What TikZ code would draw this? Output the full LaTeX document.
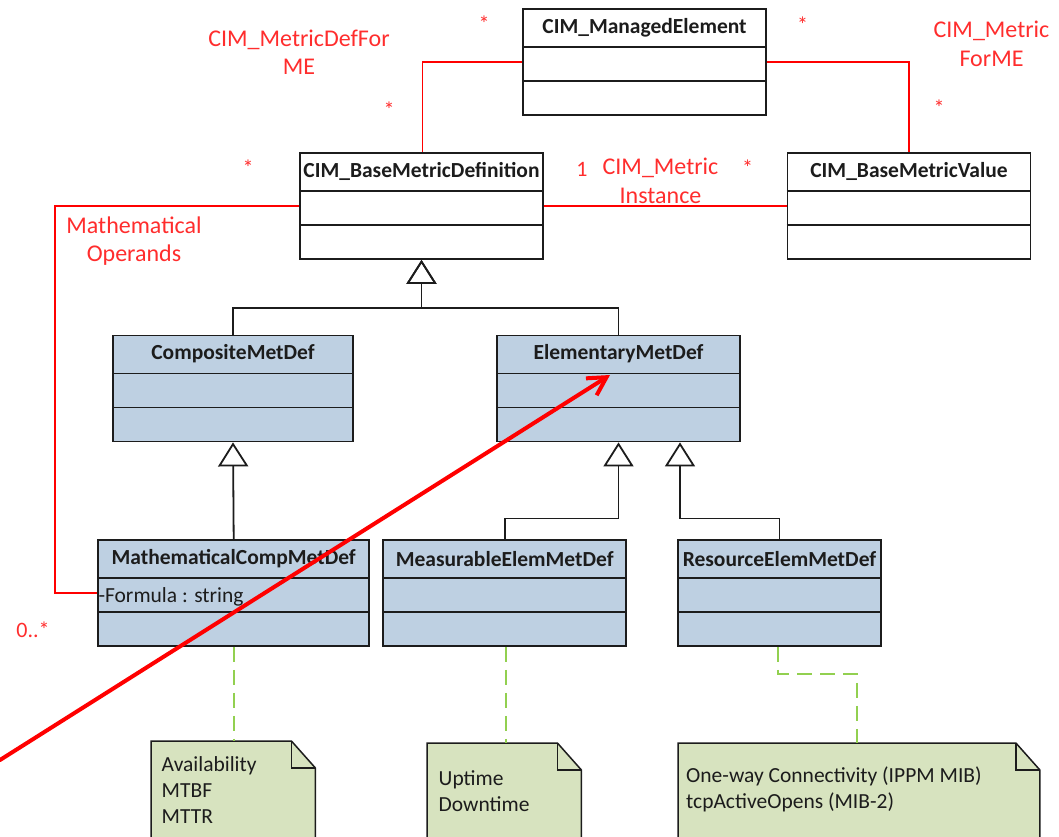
\documentclass[tikz,border=0pt]{standalone}
\usepackage{fontspec}
\setmainfont{Carlito}
\usetikzlibrary{arrows.meta,calc}

\definecolor{ink}{RGB}{28,28,28}
\definecolor{classblue}{RGB}{190,208,226}
\definecolor{notefill}{RGB}{215,227,191}
\definecolor{notegreen}{RGB}{146,208,80}
\definecolor{assocred}{RGB}{255,0,0}
\definecolor{labelred}{RGB}{255,45,45}

% UML class box: name, centre x, centre y, width, fill, title
\newcommand\umlclass[6]{%
  \node[classbox, fill=#5, minimum width=#4] (#1) at (#2,#3) {};
  \draw[divider] ([yshift=-39pt]#1.north west) -- ([yshift=-39pt]#1.north east);
  \draw[divider] ([yshift=-73pt]#1.north west) -- ([yshift=-73pt]#1.north east);
  \node[classtitle] (#1-title) at ([yshift=-19.5pt]#1.north) {#6};
}
% UML note with a folded corner, drawn around an invisible named node
\newcommand\umlnote[1]{%
  \filldraw[fill=notefill, draw=ink, line width=1.5pt]
    (#1.south west) -- (#1.north west) -- ([xshift=-24pt]#1.north east)
    -- ([yshift=-27pt]#1.north east) -- (#1.south east) -- cycle;
  \draw[ink, line width=1.5pt] ([xshift=-24pt]#1.north east) |- ([yshift=-27pt]#1.north east);
}

\begin{document}
\begin{tikzpicture}[x=1pt, y=-1pt,
  classbox/.style={draw=ink, line width=1.8pt, inner sep=0pt, minimum height=106pt},
  divider/.style={draw=ink, line width=1.5pt},
  classtitle/.style={font=\fontsize{21.5}{25}\selectfont\bfseries, text=ink, inner sep=0pt},
  attr/.style={font=\fontsize{21.5}{25}\selectfont, text=ink, inner sep=0pt, anchor=west},
  gen/.style={draw=ink, line width=1.8pt, -{Triangle[open, length=24pt, width=30pt]}},
  assocline/.style={draw=assocred, line width=1.8pt},
  assoclabel/.style={text=labelred, font=\fontsize{24}{28.5}\selectfont, align=center, inner sep=0pt},
  mult/.style={text=labelred, font=\fontsize{22}{25}\selectfont, inner sep=0pt},
  notebox/.style={inner sep=0pt, anchor=north west},
  notelink/.style={draw=notegreen, line width=1.8pt, dash pattern=on 15pt off 8pt},
  notetext/.style={font=\fontsize{21.5}{26}\selectfont, text=ink, align=left, inner sep=0pt, anchor=north west},
  bigarrow/.style={draw=assocred, line width=4pt, line cap=round, -{Straight Barb[length=18pt, width=20pt]}}
]
\useasboundingbox (0,0) rectangle (1059,837);
\fill[white] (0,0) rectangle (1059,837);

% classes
\umlclass{me}{644.5}{62}{243pt}{white}{CIM\_ManagedElement}
\umlclass{bmd}{421.5}{206}{243pt}{white}{CIM\_BaseMetricDefinition}
\umlclass{bmv}{909}{206}{243pt}{white}{CIM\_BaseMetricValue}
\umlclass{cmd}{233}{388.5}{240pt}{classblue}{CompositeMetDef}
\umlclass{emd}{618.5}{388.5}{243pt}{classblue}{ElementaryMetDef}
\umlclass{mcmd}{233.7}{593}{271pt}{classblue}{MathematicalCompMetDef}
\umlclass{memd}{504.7}{593}{243pt}{classblue}{MeasurableElemMetDef}
\umlclass{remd}{779.5}{593}{203pt}{classblue}{ResourceElemMetDef}
\node[attr] (formula) at ([xshift=1pt,yshift=-3.5pt]mcmd.west) {-Formula : string};

% generalizations
\coordinate (bmdjoin) at ([yshift=-48pt]bmd.south);
\draw[gen] (cmd.north) |- (bmdjoin) -- (bmd.south);
\draw[gen] (emd.north) |- (bmdjoin) -- (bmd.south);
\draw[gen] (mcmd.north) -- (cmd.south);
\draw[gen] (memd.north) |- ([yshift=-76pt]emd.south) -- (emd.south);
\draw[gen] (remd.north) |- ([xshift=61.5pt,yshift=-76pt]emd.south) -- ([xshift=61.5pt]emd.south);

% associations
\draw[assocline] (me.west) -| ([xshift=1pt]bmd.north);
\draw[assocline] (me.east) -| (bmv.north);
\draw[assocline] (bmd.east) -- (bmv.west);
\coordinate (opcorner) at (55,593);
\draw[assocline] (bmd.west) -| (opcorner) -- (mcmd.west);

% association names and multiplicities
\node[assoclabel] (defforme) at (299,52) {CIM\_MetricDefFor\\ME};
\node[assoclabel] (forme) at (991.5,44) {CIM\_Metric\\ForME};
\node[assoclabel] (instance) at (660.5,181) {CIM\_Metric\\Instance};
\node[assoclabel] (operands) at (134,241) {Mathematical\\Operands};
\node[mult] (m1) at (484,24) {*};
\node[mult] (m2) at (389,110) {*};
\node[mult] (m3) at (248,168) {*};
\node[mult] (m4) at (802.5,25) {*};
\node[mult] (m5) at (939,108) {*};
\node[mult] (m6) at (747.5,168) {*};
\node[mult] (m7) at (582,169) {1};
\node[mult] (m8) at (33,630) {0..*};

% notes
\node[notebox, minimum width=164pt, minimum height=119pt] (n1) at (151,741) {};
\node[notebox, minimum width=154pt, minimum height=117pt] (n2) at (427,743) {};
\node[notebox, minimum width=361.5pt, minimum height=117pt] (n3) at (678,743) {};
\umlnote{n1}
\umlnote{n2}
\umlnote{n3}
\node[notetext] (n1-text) at ([xshift=10.5pt,yshift=-15pt]n1.north west) {Availability\\MTBF\\MTTR};
\node[notetext] (n2-text) at ([xshift=11.5pt,yshift=-27pt]n2.north west) {Uptime\\Downtime};
\node[notetext] (n3-text) at ([xshift=8pt,yshift=-24pt]n3.north west) {One-way Connectivity (IPPM MIB)\\tcpActiveOpens (MIB-2)};

% note anchors
\draw[notelink] (mcmd.south) -- (mcmd.south |- n1.north);
\draw[notelink] ([xshift=1.3pt]memd.south) -- ([xshift=1.3pt]memd.south |- n2.north);
\draw[notelink] ([xshift=-1.5pt]remd.south) -- ++(0,27) -| ([xshift=179pt]n3.north west);

% pointer arrow
\coordinate (tail) at (0,760);
\draw[bigarrow] (tail) -- ([xshift=-8.5pt,yshift=13.5pt]emd.center);
\end{tikzpicture}
\end{document}
